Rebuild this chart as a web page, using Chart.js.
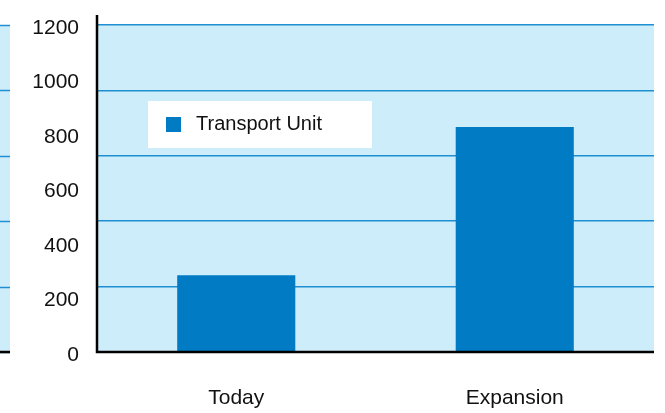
<!DOCTYPE html>
<html>
<head>
<meta charset="utf-8">
<script src="https://cdn.jsdelivr.net/npm/chart.js@4/dist/chart.umd.min.js"></script>
<style>
  html, body { margin: 0; padding: 0; background: #fff; }
  #wrap { width: 665px; height: 413px; }
</style>
</head>
<body>
<div id="wrap"><canvas id="chart"></canvas></div>
<script>
// data
const categories = ['Today', 'Expansion'];
const seriesLabel = 'Transport Unit';
const transportUnit = [282, 826];
const yTicks = [0, 200, 400, 600, 800, 1000, 1200];
const gridStep = 240; // grid lines don't sit on the labels in the original

const panelBg = '#cdedfa';
const gridBlue = '#1f8fd2';
const barBlue = '#007bc4';
const tickFont = "'Liberation Sans', Arial, sans-serif";

// background panel, left sliver, axis lines and the boxed legend
const decor = {
  id: 'decor',
  beforeDraw(chart) {
    const { ctx, chartArea: a, scales } = chart;
    ctx.save();
    ctx.fillStyle = panelBg;
    ctx.fillRect(a.left, a.top, a.right - a.left, a.bottom - a.top);
    ctx.fillRect(0, a.top, 10, a.bottom - a.top);
    // grid for the sliver on the left
    ctx.strokeStyle = gridBlue;
    ctx.lineWidth = 1.5;
    scales.y2.ticks.forEach(t => {
      const py = Math.round(scales.y2.getPixelForValue(t.value)) + 0.5;
      ctx.beginPath(); ctx.moveTo(0, py); ctx.lineTo(10, py); ctx.stroke();
    });
    ctx.restore();
  },
  afterDatasetsDraw(chart) {
    const { ctx, chartArea: a } = chart;
    ctx.save();
    ctx.strokeStyle = '#000';
    ctx.lineWidth = 2.5;
    ctx.beginPath();
    ctx.moveTo(a.left, a.top - 10);
    ctx.lineTo(a.left, a.bottom);
    ctx.lineTo(a.right, a.bottom);
    ctx.stroke();
    ctx.beginPath(); ctx.moveTo(0, a.bottom); ctx.lineTo(10, a.bottom); ctx.stroke();

    // legend box
    const ds = chart.data.datasets[0];
    const bx = a.left + 51, by = a.top + 76;
    ctx.fillStyle = '#fff';
    ctx.fillRect(bx, by, 224, 47);
    ctx.fillStyle = ds.backgroundColor;
    ctx.fillRect(bx + 18, by + 16, 15, 15);
    ctx.fillStyle = '#111';
    ctx.font = "20px 'Liberation Sans', Arial, sans-serif";
    ctx.textBaseline = 'middle';
    ctx.fillText(ds.label, bx + 48, by + 23);
    ctx.restore();
  }
};

new Chart(document.getElementById('chart'), {
  type: 'bar',
  data: {
    labels: categories,
    datasets: [{
      label: seriesLabel,
      data: transportUnit,
      backgroundColor: barBlue,
      borderWidth: 0,
      categoryPercentage: 1,
      barPercentage: 0.424,
    }]
  },
  options: {
    responsive: true,
    maintainAspectRatio: false,
    animation: false,
    layout: { autoPadding: false, padding: { top: 25, right: 11, left: 0, bottom: 0 } },
    plugins: {
      legend: { display: false },
      tooltip: { enabled: false },
    },
    scales: {
      x: {
        grid: { display: false },
        border: { display: false },
        ticks: { color: '#111', font: { family: tickFont, size: 21 }, padding: 26 },
        afterFit: s => { s.height = 61; },
      },
      y: {
        min: 0, max: 1200,
        grid: { display: false },
        border: { display: false },
        afterBuildTicks: s => { s.ticks = yTicks.map(v => ({ value: v })); },
        ticks: {
          color: '#111', font: { family: tickFont, size: 21 }, padding: 10,
          labelOffset: 3,
          callback: v => String(v),
        },
        afterFit: s => { s.width = 97; },
      },
      y2: {
        position: 'left',
        display: true,
        min: 0, max: 1200,
        ticks: { display: false, stepSize: gridStep },
        grid: { color: gridBlue, lineWidth: 1.5, drawTicks: false },
        border: { display: false },
        afterFit: s => { s.width = 0; },
      },
    }
  },
  plugins: [decor]
});
</script>
</body>
</html>
